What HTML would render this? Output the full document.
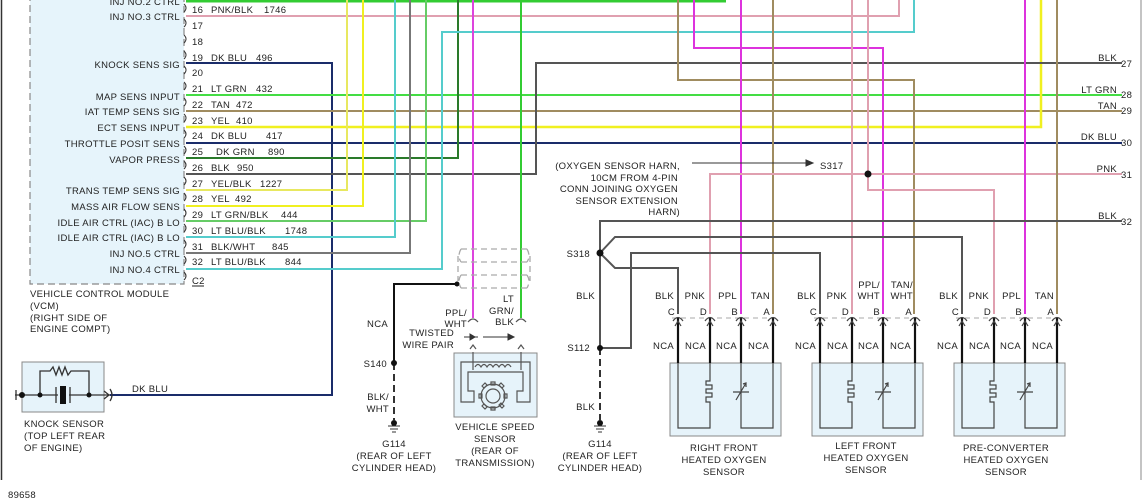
<!DOCTYPE html>
<html><head><meta charset="utf-8"><style>
html,body{margin:0;padding:0;background:#fff;}
svg{display:block;}
text{font-family:"Liberation Sans",sans-serif;font-size:9.5px;fill:#222;letter-spacing:0.3px;}
.r{text-anchor:end;}
.m{text-anchor:middle;}
</style></head><body>
<svg width="1145" height="503" viewBox="0 0 1145 503" xmlns="http://www.w3.org/2000/svg">
<rect width="1145" height="503" fill="#fff"/>
<line x1="1.5" y1="0" x2="1.5" y2="480" stroke="#333" stroke-width="1.5"/>
<line x1="1141" y1="0" x2="1141" y2="480" stroke="#888" stroke-width="1"/>
<rect x="30" y="-5" width="154" height="289" fill="#e6f4fb" stroke="#888" stroke-dasharray="7,4" stroke-width="1.2"/>
<g fill="none" stroke-width="2">
<polyline points="186,1 726,1" stroke="#33cc33" stroke-width="3"/>
<polyline points="186,16 899,16 899,0" stroke="#e0a0b0"/>
<polyline points="186,63 332,63 332,395 110,395" stroke="#1a2c6a"/>
<polyline points="186,95 1122,95" stroke="#44dd44"/>
<polyline points="186,111 1122,111" stroke="#a08c60"/>
<polyline points="186,127 1041,127 1041,0" stroke="#f0f020" stroke-width="2.5"/>
<polyline points="186,143 1122,143" stroke="#1a2c6a"/>
<polyline points="186,158 458,158 458,0" stroke="#2a7a2a"/>
<polyline points="186,174 536,174 536,63 1122,63" stroke="#555"/>
<polyline points="186,190 347,190 347,0" stroke="#e8e860"/>
<polyline points="186,206 363,206 363,0" stroke="#f0f020"/>
<polyline points="186,221 426,221 426,0" stroke="#66cc66"/>
<polyline points="186,237 395,237 395,0" stroke="#55cccc"/>
<polyline points="186,253 410,253 410,0" stroke="#777"/>
<polyline points="186,269 442,269 442,32 914,32 914,0" stroke="#55cccc"/>
<polyline points="473,0 473,318" stroke="#dd44dd"/>
<polyline points="521,0 521,318" stroke="#33cc33"/>
<polyline points="678,0 678,80 914,80 914,314" stroke="#a08c60"/>
<polyline points="694,0 694,48 883,48 883,314" stroke="#dd33dd"/>
<polyline points="741,0 741,314" stroke="#dd33dd"/>
<polyline points="773,0 773,314" stroke="#a08c60"/>
<polyline points="852,0 852,314" stroke="#e0a0b0"/>
<polyline points="868,0 868,174" stroke="#e0a0b0"/>
<polyline points="1122,174 710,174 710,314" stroke="#e0a0b0"/>
<polyline points="868,174 868,190 994,190 994,314" stroke="#e0a0b0"/>
<polyline points="1025,0 1025,314" stroke="#dd33dd"/>
<polyline points="1057,0 1057,314" stroke="#a08c60"/>
<polyline points="1122,221 600,221 600,348" stroke="#555"/>
<polyline points="600,253 615,237 962,237 962,314" stroke="#555"/>
<polyline points="600,253 615,268 678,268 678,314" stroke="#555"/>
<polyline points="600,348 631,348 631,253 820,253 820,314" stroke="#555"/>
<line x1="600" y1="348" x2="600" y2="420" stroke="#333" stroke-dasharray="7,4"/>
<polyline points="457,284 394,284 394,363" stroke="#111"/>
<line x1="394" y1="363" x2="394" y2="420" stroke="#333" stroke-dasharray="7,4"/>
</g>
<g fill="#111">
<circle cx="868" cy="174" r="3.5"/><circle cx="600" cy="253" r="3.5"/><circle cx="600" cy="348" r="3"/>
<circle cx="394" cy="363" r="3"/><circle cx="457" cy="284" r="2.5"/>
<circle cx="394" cy="423" r="3"/><circle cx="600" cy="423" r="3"/>
</g>
<g stroke="#333" stroke-width="1"><line x1="388" y1="426" x2="400" y2="426"/><line x1="390" y1="429" x2="398" y2="429"/><line x1="392" y1="432" x2="396" y2="432"/>
<line x1="594" y1="426" x2="606" y2="426"/><line x1="596" y1="429" x2="604" y2="429"/><line x1="598" y1="432" x2="602" y2="432"/></g>
<g fill="none" stroke="#aaa" stroke-dasharray="6,4" stroke-width="1.3">
<path d="M461,249 Q457,256 461,262 M527,249 Q531,256 527,262 M461,249 H527 M461,262 H527 M461,275 H527 M461,288 H527 M461,275 Q457,281 461,288 M527,275 Q531,281 527,288 M458,256 V281 M530,256 V281"/>
</g>
<rect x="454" y="353" width="83" height="64" fill="#e6f3fa" stroke="#888"/>
<g fill="none" stroke="#555" stroke-width="1.2">
<path d="M461,402 V362 H530 V402 H517 V391 H523 V372 H468 V391 H474 V402 Z"/>
<path d="M475,367 q3,-5 6,0 q3,-5 6,0 q3,-5 6,0 q3,-5 6,0 q3,-5 6,0 q3,-5 6,0"/>
<line x1="473" y1="352" x2="473" y2="370"/><line x1="521" y1="352" x2="521" y2="370"/>
<path d="M470,349 L473,345 L476,349 M518,349 L521,345 L524,349"/>
<circle cx="493" cy="396" r="12"/><circle cx="493" cy="396" r="7"/>
<path d="M491,382 h4 v3 h-4z M491,407 h4 v3 h-4z M479,394 v4 h3 v-4z M504,394 v4 h3 v-4z M482,386 l3,-3 2,2 -3,3z M501,403 l3,3 -2,2 -3,-3z M504,386 l-3,-3 -2,2 3,3z M482,406 l3,3 2,-2 -3,-3z"/>
<path d="M468,322 Q473,316 478,322 M516,322 Q521,316 526,322"/>
</g>
<g stroke="#333" stroke-width="1" fill="#333"><line x1="478" y1="337" x2="464" y2="337"/><path d="M470,334 L475,337 L470,340Z"/><line x1="483" y1="337" x2="512" y2="337"/><path d="M508,334 L514,337 L508,340Z"/>
<line x1="692" y1="163" x2="810" y2="163"/><path d="M806,160 L813,163 L806,166Z"/></g>
<rect x="22" y="362" width="82" height="50" fill="#e6f3fa" stroke="#888"/>
<g stroke="#333" stroke-width="1.3" fill="none">
<line x1="15" y1="395" x2="58" y2="395"/><line x1="69" y1="395" x2="110" y2="395"/>
<path d="M40,395 V371 H50 l3,-4 3,8 3,-8 3,8 3,-8 3,8 3,-4 H89 V395"/>
<line x1="56" y1="387" x2="56" y2="403"/><line x1="70" y1="387" x2="70" y2="403"/>
<path d="M104,391 L109,395 L104,399 M110,389 Q114,395 110,401"/>
<line x1="16" y1="390" x2="16" y2="400"/>
</g>
<rect x="60" y="386" width="6" height="18" fill="#111"/>
<g fill="#111"><circle cx="22" cy="395" r="3"/><circle cx="40" cy="395" r="2.5"/><circle cx="89" cy="395" r="2.5"/></g>
<defs><g id="s">
<rect x="-8" y="363" width="111" height="73" fill="#e6f3fa" stroke="#888"/>
<line x1="-6" y1="318" x2="101" y2="318" stroke="#aaa" stroke-dasharray="5,4"/>
<g stroke="#111" stroke-width="2.2"><line x1="0" y1="318" x2="0" y2="363"/><line x1="32" y1="318" x2="32" y2="363"/><line x1="63" y1="318" x2="63" y2="363"/><line x1="95" y1="318" x2="95" y2="363"/></g>
<g fill="none" stroke="#444" stroke-width="1.2">
<path d="M-5,321 Q0,314 5,321 M27,321 Q32,314 37,321 M58,321 Q63,314 68,321 M90,321 Q95,314 100,321"/>
<path d="M-3,326 L0,321 L3,326 M29,326 L32,321 L35,326 M60,326 L63,321 L66,326 M92,326 L95,321 L98,326"/>
<path d="M0,363 V428 H32 V402 H28 V397 H34 V393 H28 V389 H34 V385 H28 V381 H32 V363"/>
<path d="M63,363 V428 H95 V363 M55,392 H71 M58,400 L68,383 M65,384 L68,383 L68,387"/>
</g></g></defs>
<use href="#s" x="678"/><use href="#s" x="820"/><use href="#s" x="962"/>
<g>
<text x="180" y="5" class="r">INJ NO.2 CTRL</text>
<text x="180" y="20" class="r">INJ NO.3 CTRL</text>
<text x="180" y="68" class="r">KNOCK SENS SIG</text>
<text x="180" y="100" class="r">MAP SENS INPUT</text>
<text x="180" y="115" class="r">IAT TEMP SENS SIG</text>
<text x="180" y="131" class="r">ECT SENS INPUT</text>
<text x="180" y="147" class="r">THROTTLE POSIT SENS</text>
<text x="180" y="163" class="r">VAPOR PRESS</text>
<text x="180" y="194" class="r">TRANS TEMP SENS SIG</text>
<text x="180" y="210" class="r">MASS AIR FLOW SENS</text>
<text x="180" y="226" class="r">IDLE AIR CTRL (IAC) B LO</text>
<text x="180" y="241" class="r">IDLE AIR CTRL (IAC) B LO</text>
<text x="180" y="257" class="r">INJ NO.5 CTRL</text>
<text x="180" y="273" class="r">INJ NO.4 CTRL</text>
</g>
<g fill="none" stroke="#333" stroke-width="1">
<path d="M184,4 q4,4 0,8 M184,19 q4,4 0,8 M184,35 q4,4 0,8 M184,51 q4,4 0,8 M184,66 q4,4 0,8 M184,82 q4,4 0,8 M184,98 q4,4 0,8 M184,114 q4,4 0,8 M184,130 q4,4 0,8 M184,146 q4,4 0,8 M184,161 q4,4 0,8 M184,177 q4,4 0,8 M184,193 q4,4 0,8 M184,209 q4,4 0,8 M184,224 q4,4 0,8 M184,240 q4,4 0,8 M184,256 q4,4 0,8 M184,272 q4,4 0,8"/>
</g>
<g>
<text x="192" y="13">16</text><text x="211" y="13">PNK/BLK</text><text x="264" y="13">1746</text>
<text x="192" y="29">17</text>
<text x="192" y="45">18</text>
<text x="192" y="61">19</text><text x="211" y="61">DK BLU</text><text x="256" y="61">496</text>
<text x="192" y="76">20</text>
<text x="192" y="92">21</text><text x="211" y="92">LT GRN</text><text x="256" y="92">432</text>
<text x="192" y="108">22</text><text x="211" y="108">TAN</text><text x="236" y="108">472</text>
<text x="192" y="124">23</text><text x="211" y="124">YEL</text><text x="236" y="124">410</text>
<text x="192" y="139">24</text><text x="211" y="139">DK BLU</text><text x="266" y="139">417</text>
<text x="192" y="155">25</text><text x="216" y="155">DK GRN</text><text x="268" y="155">890</text>
<text x="192" y="171">26</text><text x="211" y="171">BLK</text><text x="237" y="171">950</text>
<text x="192" y="187">27</text><text x="211" y="187">YEL/BLK</text><text x="260" y="187">1227</text>
<text x="192" y="202">28</text><text x="211" y="202">YEL</text><text x="235" y="202">492</text>
<text x="192" y="218">29</text><text x="211" y="218">LT GRN/BLK</text><text x="281" y="218">444</text>
<text x="192" y="234">30</text><text x="211" y="234">LT BLU/BLK</text><text x="285" y="234">1748</text>
<text x="192" y="250">31</text><text x="211" y="250">BLK/WHT</text><text x="272" y="250">845</text>
<text x="192" y="265">32</text><text x="211" y="265">LT BLU/BLK</text><text x="285" y="265">844</text>
<text x="192" y="284">C2</text>
<line x1="192" y1="286" x2="204" y2="286" stroke="#222"/>
<text x="30" y="297">VEHICLE CONTROL MODULE</text>
<text x="30" y="309">(VCM)</text>
<text x="30" y="321">(RIGHT SIDE OF</text>
<text x="30" y="332">ENGINE COMPT)</text>
<text x="132" y="392">DK BLU</text>
<text x="24" y="427">KNOCK SENSOR</text>
<text x="24" y="439">(TOP LEFT REAR</text>
<text x="24" y="451">OF ENGINE)</text>
<text x="8" y="498">89658</text>
<text x="1117" y="61" class="r">BLK</text><text x="1121" y="67">27</text>
<text x="1117" y="93" class="r">LT GRN</text><text x="1121" y="98">28</text>
<text x="1117" y="109" class="r">TAN</text><text x="1121" y="114">29</text>
<text x="1117" y="140" class="r">DK BLU</text><text x="1121" y="146">30</text>
<text x="1117" y="172" class="r">PNK</text><text x="1121" y="178">31</text>
<text x="1117" y="219" class="r">BLK</text><text x="1121" y="225">32</text>
<text x="680" y="169" class="r">(OXYGEN SENSOR HARN,</text>
<text x="678" y="181" class="r">10CM FROM 4-PIN</text>
<text x="678" y="192" class="r">CONN JOINING OXYGEN</text>
<text x="678" y="204" class="r">SENSOR EXTENSION</text>
<text x="680" y="215" class="r">HARN)</text>
<text x="820" y="169">S317</text>
<text x="590" y="257" class="r">S318</text>
<text x="595" y="299" class="r">BLK</text>
<text x="590" y="351" class="r">S112</text>
<text x="595" y="410" class="r">BLK</text>
<text x="600" y="447" class="m">G114</text>
<text x="600" y="459" class="m">(REAR OF LEFT</text>
<text x="600" y="471" class="m">CYLINDER HEAD)</text>
<text x="394" y="447" class="m">G114</text>
<text x="394" y="459" class="m">(REAR OF LEFT</text>
<text x="394" y="471" class="m">CYLINDER HEAD)</text>
<text x="388" y="327" class="r">NCA</text>
<text x="387" y="367" class="r">S140</text>
<text x="389" y="400" class="r">BLK/</text>
<text x="389" y="412" class="r">WHT</text>
<text x="467" y="316" class="r">PPL/</text>
<text x="467" y="327" class="r">WHT</text>
<text x="514" y="302" class="r">LT</text>
<text x="514" y="314" class="r">GRN/</text>
<text x="514" y="325" class="r">BLK</text>
<text x="454" y="336" class="r">TWISTED</text>
<text x="454" y="348" class="r">WIRE PAIR</text>
<text x="495" y="430" class="m">VEHICLE SPEED</text>
<text x="495" y="442" class="m">SENSOR</text>
<text x="495" y="454" class="m">(REAR OF</text>
<text x="495" y="466" class="m">TRANSMISSION)</text>
</g>
<g>
<text x="674" y="299" class="r">BLK</text><text x="705" y="299" class="r">PNK</text><text x="737" y="299" class="r">PPL</text><text x="770" y="299" class="r">TAN</text>
<text x="675" y="315" class="r">C</text><text x="707" y="315" class="r">D</text><text x="738" y="315" class="r">B</text><text x="770" y="315" class="r">A</text>
<text x="674" y="349" class="r">NCA</text><text x="706" y="349" class="r">NCA</text><text x="737" y="349" class="r">NCA</text><text x="769" y="349" class="r">NCA</text>
<text x="724" y="451" class="m">RIGHT FRONT</text><text x="724" y="463" class="m">HEATED OXYGEN</text><text x="724" y="475" class="m">SENSOR</text>
<text x="816" y="299" class="r">BLK</text><text x="847" y="299" class="r">PNK</text><text x="880" y="288" class="r">PPL/</text><text x="880" y="299" class="r">WHT</text><text x="913" y="288" class="r">TAN/</text><text x="913" y="299" class="r">WHT</text>
<text x="817" y="315" class="r">C</text><text x="849" y="315" class="r">D</text><text x="880" y="315" class="r">B</text><text x="912" y="315" class="r">A</text>
<text x="816" y="349" class="r">NCA</text><text x="848" y="349" class="r">NCA</text><text x="879" y="349" class="r">NCA</text><text x="911" y="349" class="r">NCA</text>
<text x="866" y="449" class="m">LEFT FRONT</text><text x="866" y="461" class="m">HEATED OXYGEN</text><text x="866" y="473" class="m">SENSOR</text>
<text x="958" y="299" class="r">BLK</text><text x="989" y="299" class="r">PNK</text><text x="1021" y="299" class="r">PPL</text><text x="1054" y="299" class="r">TAN</text>
<text x="959" y="315" class="r">C</text><text x="991" y="315" class="r">D</text><text x="1022" y="315" class="r">B</text><text x="1054" y="315" class="r">A</text>
<text x="958" y="349" class="r">NCA</text><text x="990" y="349" class="r">NCA</text><text x="1021" y="349" class="r">NCA</text><text x="1053" y="349" class="r">NCA</text>
<text x="1006" y="451" class="m">PRE-CONVERTER</text><text x="1006" y="463" class="m">HEATED OXYGEN</text><text x="1006" y="475" class="m">SENSOR</text>
</g>
</svg>
</body></html>
